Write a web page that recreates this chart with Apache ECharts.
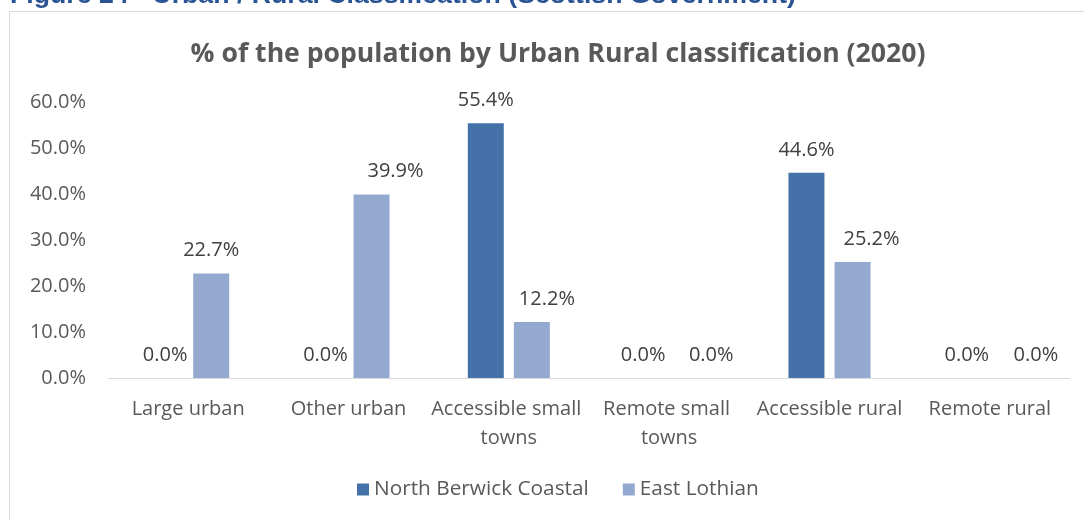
<!DOCTYPE html>
<html>
<head>
<meta charset="utf-8">
<script src="https://cdn.jsdelivr.net/npm/echarts@6/dist/echarts.min.js"></script>
<style>
html,body{margin:0;padding:0;background:#fff;}
#chart{width:1084px;height:520px;}
</style>
</head>
<body>
<div id="chart"></div>
<script>
const categories = ['Large urban', 'Other urban', 'Accessible small towns', 'Remote small towns', 'Accessible rural', 'Remote rural'];
const northBerwick = [0.0, 0.0, 55.4, 0.0, 44.6, 0.0];
const eastLothian = [22.7, 39.9, 12.2, 0.0, 25.2, 0.0];
const yTicks = [0, 10, 20, 30, 40, 50, 60];

const FONT = '"Open Sans", sans-serif';
// horizontal nudges of data labels (as Excel placed them), style only
const nbLabelShift = [0, 0, 0, -3, 0, 0];
const elLabelShift = [0, 24, 15, 19, 19, 23];

const chart = echarts.init(document.getElementById('chart'), null, {renderer: 'canvas'});
const labelCfg = {
  show: true, position: 'top', distance: 13,
  formatter: p => p.value.toFixed(1) + '%',
  fontFamily: FONT, fontSize: 20, color: '#404040'
};
const toItems = (arr, shifts) => arr.map((v, i) => ({value: v, label: {offset: [shifts[i], 0]}}));

chart.setOption({
  backgroundColor: '#ffffff',
  animation: false,
  graphic: [
    {type: 'rect', shape: {x: 9.5, y: 11.5, width: 1100, height: 600}, style: {fill: '#fff', stroke: '#d9d9d9', lineWidth: 1}, z: -10},
    {type: 'text', x: 10, y: 9, style: {text: 'Figure 24 - Urban / Rural Classification (Scottish Government)', font: 'bold 26.7px "Liberation Sans", Arial, sans-serif', fill: '#2a5494', verticalAlign: 'bottom'}, z: -5}
  ],
  title: {
    text: '% of the population by Urban Rural classification (2020)',
    left: 553, textAlign: 'center', top: 36,
    textStyle: {fontFamily: FONT, fontSize: 26.6, fontWeight: 'bold', color: '#595959'}
  },
  legend: {
    bottom: 15, left: 352, itemWidth: 12, itemHeight: 12, itemGap: 34, icon: 'rect',
    textStyle: {fontFamily: FONT, fontSize: 20.8, color: '#595959'},
    data: ['North Berwick Coastal', 'East Lothian']
  },
  grid: {left: 108, right: 14, top: 102, bottom: 142},
  xAxis: {
    type: 'category', data: categories,
    axisLine: {lineStyle: {color: '#d9d9d9', width: 1}},
    axisTick: {show: false},
    axisLabel: {fontFamily: FONT, fontSize: 20, color: '#595959', margin: 17, width: 160, overflow: 'break', lineHeight: 29, interval: 0}
  },
  yAxis: {
    type: 'value', min: yTicks[0], max: yTicks[yTicks.length - 1], interval: 10,
    axisLine: {show: false}, axisTick: {show: false}, splitLine: {show: false},
    axisLabel: {fontFamily: FONT, fontSize: 20, color: '#595959', margin: 22, formatter: v => v.toFixed(1) + '%'}
  },
  series: [
    {name: 'North Berwick Coastal', type: 'bar', data: toItems(northBerwick, nbLabelShift), barWidth: 36, barGap: '28%', itemStyle: {color: '#4472a8'}, label: labelCfg},
    {name: 'East Lothian', type: 'bar', data: toItems(eastLothian, elLabelShift), barWidth: 36, itemStyle: {color: '#94a9d0'}, label: labelCfg}
  ]
});
</script>
</body>
</html>
